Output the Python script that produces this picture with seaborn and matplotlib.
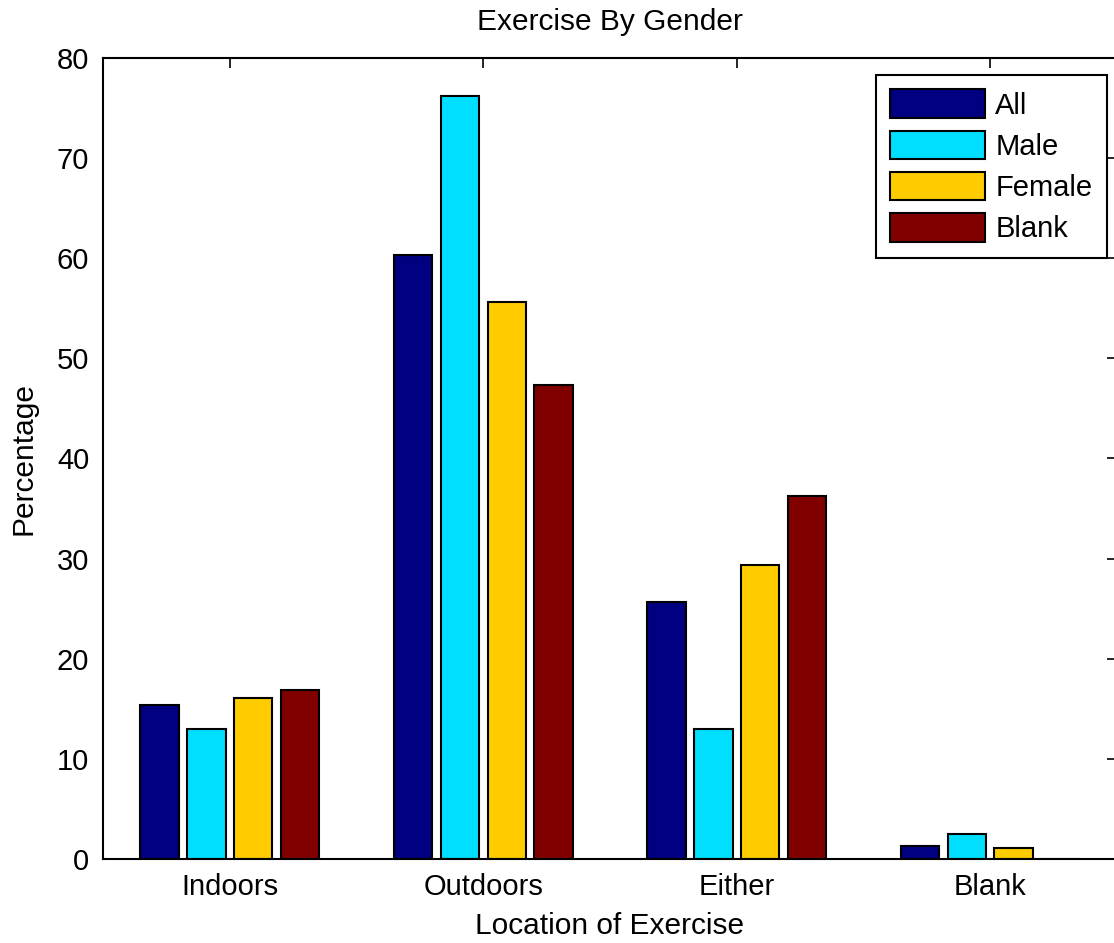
import matplotlib
matplotlib.use('Agg')
import matplotlib.pyplot as plt
import seaborn as sns
import pandas as pd

# data
locations = ['Indoors', 'Outdoors', 'Either', 'Blank']
groups = ['All', 'Male', 'Female', 'Blank']
all_pct = [15.4, 60.3, 25.7, 1.3]
male_pct = [13.0, 76.2, 13.0, 2.5]
female_pct = [16.1, 55.6, 29.4, 1.1]
blank_pct = [16.9, 47.3, 36.3, 0.0]
colors = ['#000080', '#00DFFF', '#FFCC00', '#800000']

rows = []
for g, vals in zip(groups, [all_pct, male_pct, female_pct, blank_pct]):
    for loc, v in zip(locations, vals):
        rows.append({'location': loc, 'group': g, 'pct': v})
df = pd.DataFrame(rows)

sns.set_style('white')
plt.rcParams['font.family'] = ['Liberation Sans', 'DejaVu Sans']
for k in ['text.color', 'axes.labelcolor', 'xtick.color', 'ytick.color']:
    plt.rcParams[k] = 'black'

fig = plt.figure(figsize=(11.14, 9.43), dpi=100)
ax = fig.add_axes([0.0925, 0.0891, 1.0027 - 0.0925, 0.9385 - 0.0891])

sns.barplot(data=df, x='location', y='pct', hue='group', order=locations,
            hue_order=groups, palette=colors, width=0.74, gap=0.18,
            edgecolor='black', linewidth=1.5, saturation=1, ax=ax)

ax.set_xlim(-0.5, 3.5)
ax.set_ylim(0, 80)
ax.set_yticks(range(0, 81, 10))
ax.tick_params(direction='in', length=7, width=1.2, labelsize=21,
               top=True, right=True, pad=10)
for s in ax.spines.values():
    s.set_linewidth(1.5)
    s.set_color('black')

ax.set_title('Exercise By Gender', fontsize=21.5, pad=20)
ax.set_xlabel('Location of Exercise', fontsize=21.5, labelpad=8)
ax.set_ylabel('Percentage', fontsize=21.5, labelpad=14)

leg = ax.legend(loc='upper right', bbox_to_anchor=(0.990, 0.979), fontsize=21,
                frameon=True, fancybox=False, framealpha=1, edgecolor='black',
                handlelength=3.25, handleheight=1.13, labelspacing=0.38,
                handletextpad=0.34, borderpad=0.5, borderaxespad=0)
leg.get_frame().set_linewidth(1.5)

fig.savefig('out.png', dpi=100)
